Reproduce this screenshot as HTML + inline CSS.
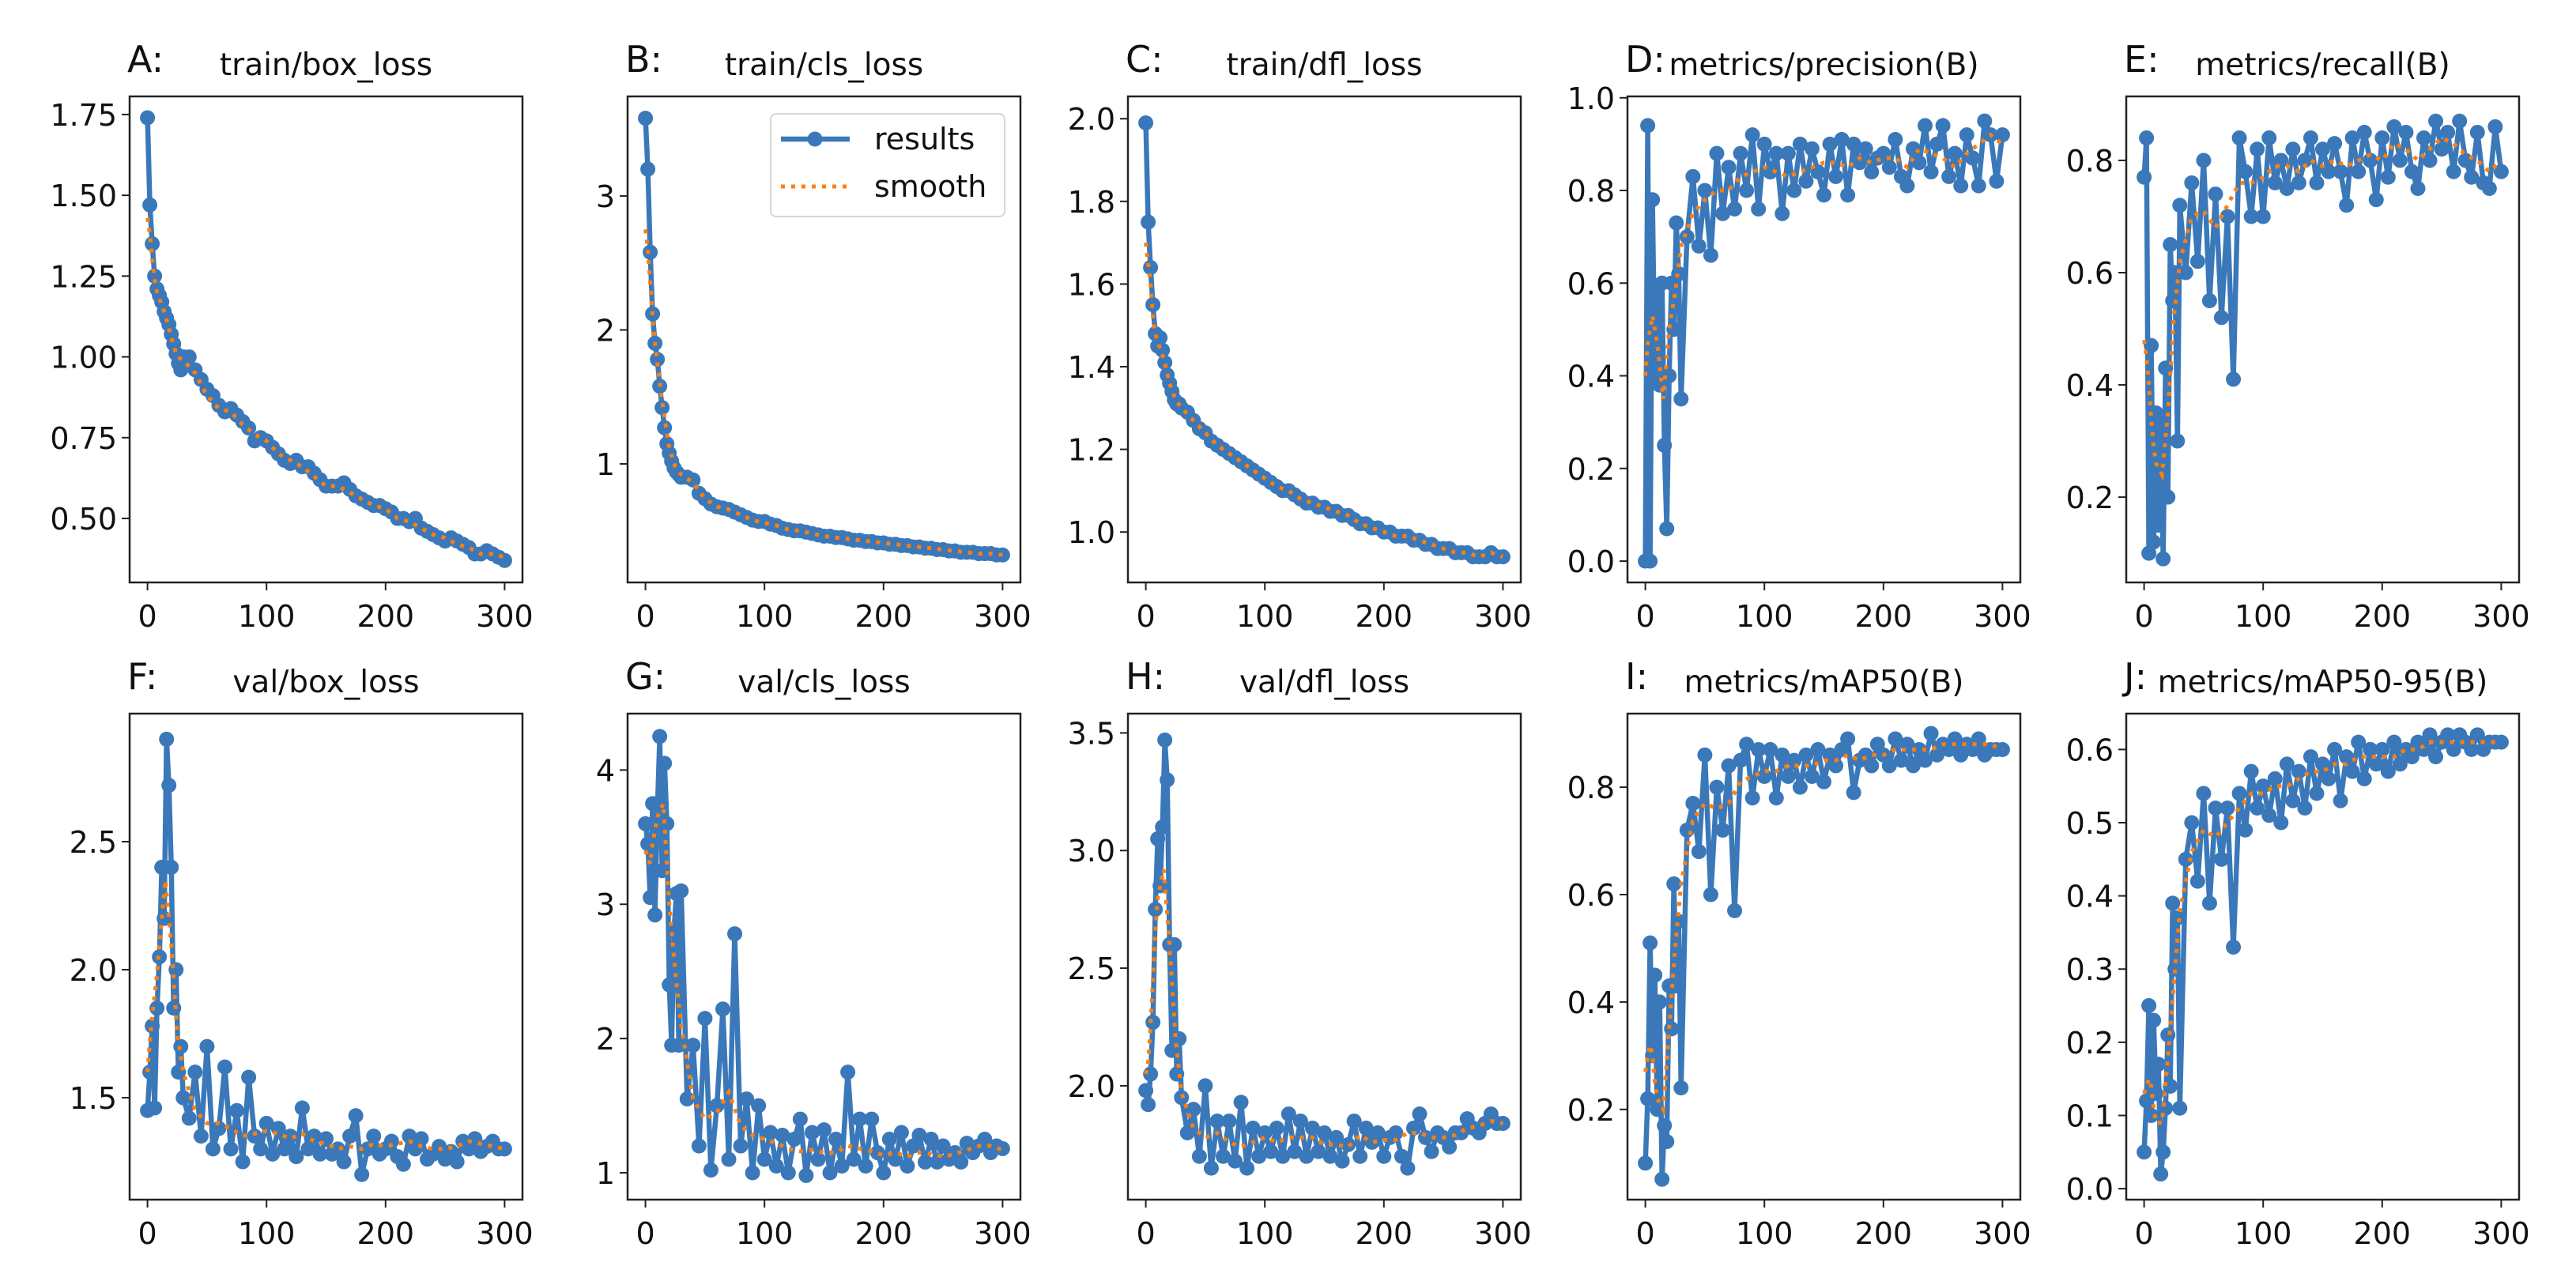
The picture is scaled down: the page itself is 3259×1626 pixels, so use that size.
<!DOCTYPE html>
<html><head><meta charset="utf-8"><style>
html,body{margin:0;padding:0;background:#fff;}
svg{display:block;}
text{font-family:"DejaVu Sans","Liberation Sans",sans-serif;fill:#111;}
</style></head><body>
<svg id="fig" width="3259" height="1626" viewBox="0 0 3259 1626" xmlns="http://www.w3.org/2000/svg"></svg>
<script>
const epochs=[0,2,4,6,8,10,12,14,16,18,20,22,24,26,28,30,35,40,45,50,55,60,65,70,75,80,85,90,95,100,105,110,115,120,125,130,135,140,145,150,155,160,165,170,175,180,185,190,195,200,205,210,215,220,225,230,235,240,245,250,255,260,265,270,275,280,285,290,295,300];
const smoothEpochs=[0,2,4,6,8,10,15,20,25,30,40,50,60,70,80,90,100,110,120,130,140,150,160,170,180,190,200,210,220,230,240,250,260,270,280,290,300];
const xTicks=[0,100,200,300];

const trainBoxLoss=[1.74,1.47,1.35,1.25,1.21,1.19,1.17,1.14,1.12,1.10,1.07,1.04,1.01,0.98,0.96,1.00,1.00,0.96,0.93,0.90,0.88,0.85,0.83,0.84,0.82,0.80,0.78,0.74,0.75,0.74,0.72,0.70,0.68,0.67,0.68,0.66,0.66,0.64,0.62,0.60,0.60,0.60,0.61,0.59,0.57,0.56,0.55,0.54,0.54,0.53,0.52,0.50,0.50,0.49,0.50,0.47,0.46,0.45,0.44,0.43,0.44,0.43,0.42,0.41,0.39,0.39,0.40,0.39,0.38,0.37];
const trainBoxLossSmooth=[1.43,1.38,1.30,1.24,1.20,1.18,1.13,1.06,1.00,0.99,0.95,0.88,0.84,0.83,0.79,0.76,0.74,0.70,0.68,0.66,0.63,0.60,0.60,0.58,0.56,0.54,0.53,0.50,0.49,0.47,0.45,0.44,0.42,0.41,0.39,0.39,0.38];
const trainClsLoss=[3.58,3.2,2.58,2.12,1.9,1.78,1.58,1.42,1.27,1.15,1.08,1.02,0.97,0.94,0.92,0.9,0.9,0.88,0.78,0.74,0.70,0.68,0.67,0.66,0.64,0.62,0.60,0.58,0.57,0.57,0.55,0.54,0.52,0.51,0.50,0.50,0.49,0.48,0.47,0.46,0.46,0.45,0.45,0.44,0.43,0.43,0.42,0.42,0.41,0.41,0.40,0.40,0.39,0.39,0.38,0.38,0.37,0.37,0.36,0.36,0.35,0.35,0.34,0.34,0.34,0.33,0.33,0.33,0.32,0.32];
const trainClsLossSmooth=[2.75,2.6,2.35,2.1,1.9,1.75,1.40,1.12,0.98,0.92,0.86,0.74,0.68,0.66,0.62,0.58,0.56,0.54,0.51,0.50,0.48,0.46,0.45,0.44,0.43,0.42,0.41,0.40,0.39,0.38,0.37,0.36,0.35,0.34,0.33,0.33,0.32];
const trainDflLoss=[1.99,1.75,1.64,1.55,1.48,1.45,1.47,1.44,1.41,1.38,1.36,1.34,1.32,1.31,1.31,1.30,1.29,1.27,1.25,1.24,1.22,1.21,1.20,1.19,1.18,1.17,1.16,1.15,1.14,1.13,1.12,1.11,1.10,1.10,1.09,1.08,1.07,1.07,1.06,1.06,1.05,1.05,1.04,1.04,1.03,1.02,1.02,1.01,1.01,1.00,1.00,0.99,0.99,0.99,0.98,0.98,0.97,0.97,0.96,0.96,0.96,0.95,0.95,0.95,0.94,0.94,0.94,0.95,0.94,0.94];
const trainDflLossSmooth=[1.70,1.65,1.60,1.52,1.48,1.46,1.42,1.36,1.32,1.30,1.27,1.24,1.21,1.19,1.17,1.15,1.13,1.11,1.10,1.08,1.07,1.06,1.05,1.04,1.02,1.01,1.00,0.99,0.99,0.98,0.97,0.96,0.95,0.95,0.94,0.95,0.94];
const precision=[0.0,0.94,0.0,0.78,0.40,0.58,0.38,0.60,0.25,0.07,0.40,0.60,0.50,0.73,0.62,0.35,0.70,0.83,0.68,0.80,0.66,0.88,0.75,0.85,0.76,0.88,0.80,0.92,0.76,0.90,0.84,0.88,0.75,0.88,0.80,0.90,0.82,0.89,0.84,0.79,0.90,0.83,0.91,0.79,0.90,0.86,0.89,0.84,0.87,0.88,0.85,0.91,0.83,0.81,0.89,0.86,0.94,0.84,0.90,0.94,0.83,0.88,0.81,0.92,0.87,0.81,0.95,0.92,0.82,0.92];
const precisionSmooth=[0.40,0.47,0.50,0.53,0.50,0.47,0.35,0.50,0.58,0.68,0.75,0.78,0.80,0.80,0.83,0.84,0.85,0.84,0.83,0.84,0.85,0.86,0.86,0.85,0.87,0.86,0.87,0.87,0.85,0.89,0.88,0.87,0.85,0.88,0.90,0.92,0.90];
const recall=[0.77,0.84,0.10,0.47,0.12,0.35,0.15,0.33,0.09,0.43,0.20,0.65,0.55,0.60,0.30,0.72,0.60,0.76,0.62,0.80,0.55,0.74,0.52,0.70,0.41,0.84,0.78,0.70,0.82,0.70,0.84,0.76,0.80,0.75,0.82,0.76,0.80,0.84,0.76,0.82,0.78,0.83,0.78,0.72,0.84,0.78,0.85,0.80,0.73,0.84,0.77,0.86,0.80,0.85,0.78,0.75,0.84,0.80,0.87,0.82,0.85,0.78,0.87,0.80,0.77,0.85,0.76,0.75,0.86,0.78];
const recallSmooth=[0.48,0.45,0.40,0.34,0.29,0.26,0.24,0.35,0.52,0.62,0.70,0.71,0.68,0.72,0.76,0.76,0.77,0.79,0.79,0.78,0.80,0.79,0.80,0.79,0.80,0.81,0.80,0.83,0.82,0.80,0.82,0.84,0.83,0.81,0.80,0.78,0.80];
const valBoxLoss=[1.45,1.60,1.78,1.46,1.85,2.05,2.40,2.20,2.90,2.72,2.40,1.85,2.0,1.60,1.70,1.50,1.42,1.60,1.35,1.70,1.30,1.38,1.62,1.30,1.45,1.25,1.58,1.35,1.30,1.40,1.28,1.38,1.30,1.35,1.27,1.46,1.30,1.35,1.28,1.34,1.28,1.30,1.25,1.35,1.43,1.20,1.30,1.35,1.28,1.30,1.33,1.27,1.24,1.35,1.30,1.34,1.26,1.28,1.31,1.26,1.29,1.25,1.33,1.30,1.34,1.29,1.31,1.33,1.30,1.30];
const valBoxLossSmooth=[1.60,1.72,1.82,1.90,1.98,2.10,2.35,2.10,1.75,1.60,1.45,1.40,1.40,1.38,1.35,1.36,1.37,1.36,1.34,1.36,1.33,1.32,1.30,1.31,1.30,1.32,1.31,1.32,1.33,1.31,1.30,1.30,1.31,1.33,1.32,1.31,1.30];
const valClsLoss=[3.6,3.45,3.05,3.75,2.92,3.70,4.25,3.25,4.05,3.60,2.40,1.95,2.80,3.08,1.95,3.10,1.55,1.95,1.20,2.15,1.02,1.50,2.22,1.10,2.78,1.20,1.55,1.00,1.50,1.10,1.30,1.05,1.28,1.00,1.25,1.40,0.98,1.30,1.10,1.32,1.00,1.25,1.05,1.75,1.10,1.40,1.05,1.40,1.15,1.00,1.25,1.10,1.30,1.05,1.20,1.28,1.08,1.25,1.08,1.20,1.10,1.15,1.08,1.22,1.15,1.20,1.25,1.15,1.20,1.18];
const valClsLossSmooth=[3.4,3.35,3.3,3.45,3.55,3.65,3.75,3.0,2.5,2.1,1.55,1.40,1.45,1.60,1.35,1.28,1.25,1.22,1.18,1.16,1.17,1.15,1.15,1.20,1.18,1.16,1.13,1.15,1.12,1.15,1.14,1.12,1.14,1.17,1.20,1.20,1.17];
const valDflLoss=[1.98,1.92,2.05,2.27,2.75,3.05,2.85,3.1,3.47,3.3,2.6,2.15,2.6,2.05,2.2,1.95,1.80,1.90,1.70,2.0,1.65,1.85,1.70,1.85,1.68,1.93,1.65,1.82,1.70,1.80,1.72,1.82,1.70,1.88,1.72,1.85,1.70,1.82,1.72,1.80,1.70,1.78,1.68,1.75,1.85,1.70,1.82,1.76,1.80,1.70,1.78,1.80,1.70,1.65,1.82,1.88,1.78,1.72,1.80,1.78,1.74,1.80,1.80,1.86,1.82,1.80,1.84,1.88,1.84,1.84];
const valDflLossSmooth=[2.05,2.10,2.25,2.45,2.65,2.80,2.92,2.6,2.2,1.97,1.82,1.78,1.80,1.76,1.74,1.76,1.78,1.76,1.78,1.78,1.78,1.75,1.75,1.74,1.79,1.76,1.77,1.77,1.80,1.80,1.78,1.78,1.79,1.82,1.83,1.85,1.84];
const mAP50=[0.10,0.22,0.51,0.30,0.45,0.20,0.40,0.07,0.17,0.14,0.43,0.35,0.62,0.43,0.55,0.24,0.72,0.77,0.68,0.86,0.60,0.80,0.72,0.84,0.57,0.85,0.88,0.78,0.87,0.82,0.87,0.78,0.86,0.82,0.85,0.80,0.86,0.82,0.87,0.81,0.86,0.84,0.87,0.89,0.79,0.85,0.86,0.84,0.88,0.86,0.84,0.89,0.85,0.88,0.84,0.87,0.85,0.90,0.86,0.88,0.87,0.89,0.86,0.88,0.87,0.89,0.86,0.87,0.87,0.87];
const mAP50Smooth=[0.27,0.30,0.32,0.30,0.25,0.22,0.20,0.35,0.50,0.62,0.74,0.77,0.76,0.77,0.81,0.82,0.83,0.83,0.84,0.84,0.84,0.85,0.85,0.86,0.85,0.86,0.86,0.87,0.87,0.87,0.87,0.88,0.88,0.88,0.88,0.88,0.87];
const mAP5095=[0.05,0.12,0.25,0.10,0.23,0.13,0.17,0.02,0.05,0.11,0.21,0.14,0.39,0.30,0.37,0.11,0.45,0.50,0.42,0.54,0.39,0.52,0.45,0.52,0.33,0.54,0.49,0.57,0.52,0.55,0.51,0.56,0.50,0.58,0.53,0.57,0.52,0.59,0.54,0.58,0.56,0.60,0.53,0.59,0.57,0.61,0.56,0.60,0.58,0.60,0.57,0.61,0.58,0.60,0.59,0.61,0.60,0.62,0.59,0.61,0.62,0.60,0.62,0.61,0.60,0.62,0.60,0.61,0.61,0.61];
const mAP5095Smooth=[0.13,0.14,0.15,0.14,0.11,0.09,0.09,0.18,0.28,0.38,0.46,0.49,0.48,0.50,0.52,0.54,0.54,0.55,0.55,0.56,0.57,0.57,0.58,0.58,0.59,0.59,0.59,0.59,0.60,0.60,0.61,0.61,0.61,0.61,0.61,0.61,0.61];

const panelLetters=["A:","B:","C:","D:","E:","F:","G:","H:","I:","J:"];
const panelTitles=["train/box_loss","train/cls_loss","train/dfl_loss","metrics/precision(B)","metrics/recall(B)","val/box_loss","val/cls_loss","val/dfl_loss","metrics/mAP50(B)","metrics/mAP50-95(B)"];
const panelSeries=[trainBoxLoss,trainClsLoss,trainDflLoss,precision,recall,valBoxLoss,valClsLoss,valDflLoss,mAP50,mAP5095];
const panelSmooth=[trainBoxLossSmooth,trainClsLossSmooth,trainDflLossSmooth,precisionSmooth,recallSmooth,valBoxLossSmooth,valClsLossSmooth,valDflLossSmooth,mAP50Smooth,mAP5095Smooth];
const yTickValues=[[0.5,0.75,1.0,1.25,1.5,1.75],[1,2,3],[1.0,1.2,1.4,1.6,1.8,2.0],[0,0.2,0.4,0.6,0.8,1.0],[0.2,0.4,0.6,0.8],[1.5,2.0,2.5],[1,2,3,4],[2.0,2.5,3.0,3.5],[0.2,0.4,0.6,0.8],[0,0.1,0.2,0.3,0.4,0.5,0.6]];
const yTickLabels=[["0.50","0.75","1.00","1.25","1.50","1.75"],["1","2","3"],["1.0","1.2","1.4","1.6","1.8","2.0"],["0.0","0.2","0.4","0.6","0.8","1.0"],["0.2","0.4","0.6","0.8"],["1.5","2.0","2.5"],["1","2","3","4"],["2.0","2.5","3.0","3.5"],["0.2","0.4","0.6","0.8"],["0.0","0.1","0.2","0.3","0.4","0.5","0.6"]];
const yDomains=[[0.302,1.806],[0.115,3.743],[0.878,2.054],[-0.046,1.003],[0.048,0.914],[1.102,3.0],[0.80,4.42],[1.516,3.582],[0.032,0.937],[-0.015,0.649]];

const NS="http://www.w3.org/2000/svg";
const svg=document.getElementById('fig');
const lefts=[164,794,1427,2059,2690], tops=[122,903], W=497, H=615;
const BLUE="#3a78b9", ORANGE="#ff7f0e";
function mk(tag,attrs,parent){const e=document.createElementNS(NS,tag);for(const k in attrs)e.setAttribute(k,attrs[k]);(parent||svg).appendChild(e);return e;}

for(let p=0;p<10;p++){
  const L=lefts[p%5], T=tops[Math.floor(p/5)];
  const g=mk('g',{});
  
  
  const xs=v=>L+(v+15)/330*W;
  const [y0,y1]=yDomains[p];
  const ys=v=>T+H-(v-y0)/(y1-y0)*H;
  const lt=mk('text',{x:L-3,y:T-31,'font-size':46},g);lt.textContent=panelLetters[p];
  
  
  const tt=mk('text',{x:L+W/2,y:T-27,'font-size':39,'text-anchor':'middle'},g);tt.textContent=panelTitles[p];
  
  
  xTicks.forEach(v=>{
    mk('line',{x1:xs(v),x2:xs(v),y1:T+H,y2:T+H+10,stroke:'#222','stroke-width':2},g);
    const t=mk('text',{x:xs(v),y:T+H+56,'font-size':38,'text-anchor':'middle'},g);t.textContent=v;
    
    
  });
  yTickValues[p].forEach((v,i)=>{
    mk('line',{x1:L-10,x2:L,y1:ys(v),y2:ys(v),stroke:'#222','stroke-width':2},g);
    const t=mk('text',{x:L-16,y:ys(v)+14,'font-size':38,'text-anchor':'end'},g);t.textContent=yTickLabels[p][i];
    
    
  });
  const clip=mk('clipPath',{id:'c'+p},g);mk('rect',{x:L,y:T,width:W,height:H},clip);
  const pg=mk('g',{'clip-path':'url(#c'+p+')'},g);
  const data=panelSeries[p];
  const pts=data.map((v,i)=>xs(epochs[i]).toFixed(1)+','+ys(v).toFixed(1)).join(' ');
  const line=mk('polyline',{points:pts,fill:'none',stroke:BLUE,'stroke-width':6.5,'stroke-linejoin':'round'},pg);
  
  
  data.forEach((v,i)=>{
    const c=mk('circle',{cx:xs(epochs[i]),cy:ys(v),r:9.5,fill:BLUE},pg);
    
    
  });
  const sm=panelSmooth[p];
  const spts=sm.map((v,i)=>xs(smoothEpochs[i]).toFixed(1)+','+ys(v).toFixed(1)).join(' ');
  const sl=mk('polyline',{points:spts,fill:'none',stroke:ORANGE,'stroke-width':5,'stroke-dasharray':'5 8'},pg);
  
  
  const fr=mk('rect',{x:L,y:T,width:W,height:H,fill:'none',stroke:'#222','stroke-width':2.5},g);
  
  
}
const lg=mk('g',{});


mk('rect',{x:975,y:144,width:296,height:130,rx:7,fill:'#fff',stroke:'#d6d6d6','stroke-width':2},lg);
mk('line',{x1:988,x2:1075,y1:176,y2:176,stroke:BLUE,'stroke-width':6.5},lg);
mk('circle',{cx:1031,cy:176,r:9.5,fill:BLUE},lg);
const l1=mk('text',{x:1106,y:189,'font-size':38},lg);l1.textContent='results';


mk('line',{x1:988,x2:1075,y1:236,y2:236,stroke:ORANGE,'stroke-width':5,'stroke-dasharray':'5 8'},lg);
const l2=mk('text',{x:1106,y:249,'font-size':38},lg);l2.textContent='smooth';


</script>
</body></html>
